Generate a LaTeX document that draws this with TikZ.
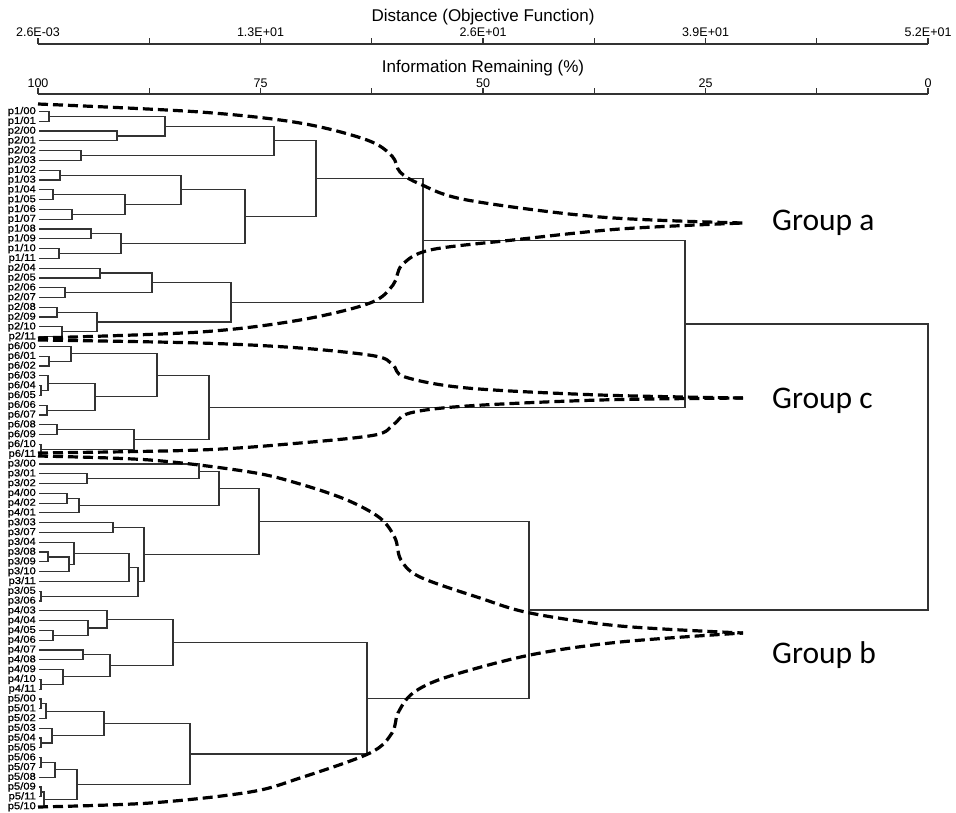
\documentclass[tikz,border=0pt]{standalone}
\usepackage{fontspec}
\setmainfont{Liberation Sans}
\newfontfamily\grpfont{Carlito}
\newfontfamily\leaffont[FakeBold=0.8,FakeStretch=1.12]{Liberation Sans}
\usetikzlibrary{calc}

\tikzset{
  dend/.style={line width=1.2pt, black!80},
  grpline/.style={line width=3.2pt, dash pattern=on 10pt off 5pt, smooth, tension=0.55},
  leaf/.style={anchor=east, inner sep=0pt, text height=7.2pt, text depth=2pt, font=\leaffont\fontsize{10}{10}\selectfont},
  ticklab/.style={inner sep=0pt, font=\fontsize{12.5}{12.5}\selectfont},
  axtitle/.style={inner sep=0pt, font=\fontsize{17}{17}\selectfont},
  grplab/.style={anchor=base west, inner sep=0pt, font=\grpfont\fontsize{31.5}{31.5}\selectfont}
}

% bracket joining two subtrees at distance #4
\newcommand\junc[4]{%
  \path ($(#2)!0.5!(#3)$) coordinate (#1m);
  \coordinate (#1) at (#4,0 |- #1m);
  \draw[dend] (#2) -| (#1) |- (#3);}

\begin{document}
\begin{tikzpicture}[x=1pt, y=-1pt]
  \fill[white] (0,0) rectangle (956,812);
  \useasboundingbox (0,0) rectangle (956,812);

  % axes
  \node[axtitle] (dtitle) at (483,17) {Distance (Objective Function)};
  \node[axtitle] (ititle) at (483,68) {Information Remaining (\%)};
  \coordinate (d0) at (38,44);
  \coordinate (d8) at (928,44);
  \coordinate (i0) at (38,94);
  \coordinate (i8) at (928,94);
  \draw[dend] (d0) -- (d8);
  \draw[dend] (i0) -- (i8);
  \foreach \k in {0,...,8} {
    \draw[dend] ($(d0)+(111.25*\k,0)$) -- ++(0,-6);
    \draw[dend] ($(i0)+(111.25*\k,0)$) -- ++(0,-6);
  }
  \foreach \v/\k in {2.6E-03/0, 1.3E+01/2, 2.6E+01/4, 3.9E+01/6, 5.2E+01/8}
    \node[ticklab] (dl\k) at (38+111.25*\k,32) {\v};
  \foreach \v/\k in {100/0, 75/2, 50/4, 25/6, 0/8}
    \node[ticklab] (il\k) at (38+111.25*\k,83) {\v};

  % leaves
  \foreach \lab [count=\i from 0] in {p1/00,p1/01,p2/00,p2/01,p2/02,p2/03,p1/02,p1/03,p1/04,p1/05,p1/06,p1/07,p1/08,p1/09,p1/10,p1/11,p2/04,p2/05,p2/06,p2/07,p2/08,p2/09,p2/10,p2/11,p6/00,p6/01,p6/02,p6/03,p6/04,p6/05,p6/06,p6/07,p6/08,p6/09,p6/10,p6/11,p3/00,p3/01,p3/02,p4/00,p4/02,p4/01,p3/03,p3/07,p3/04,p3/08,p3/09,p3/10,p3/11,p3/05,p3/06,p4/03,p4/04,p4/05,p4/06,p4/07,p4/08,p4/09,p4/10,p4/11,p5/00,p5/01,p5/02,p5/03,p5/04,p5/05,p5/06,p5/07,p5/08,p5/09,p5/11,p5/10} {
    \coordinate (L\i) at (39,111.5+9.79*\i);
    \node[leaf] (n\i) at (36,111.5+9.79*\i) {\lab};
  }

  % group a
  \junc{a1}{L0}{L1}{49}
  \junc{a2}{L2}{L3}{117}
  \junc{a3}{a1}{a2}{165}
  \junc{a4}{L4}{L5}{81}
  \junc{a5}{a3}{a4}{274}
  \junc{a6}{L6}{L7}{60}
  \junc{a7}{L8}{L9}{53}
  \junc{a8}{L10}{L11}{72}
  \junc{a9}{a7}{a8}{125}
  \junc{a10}{a6}{a9}{181}
  \junc{a11}{L12}{L13}{91}
  \junc{a12}{L14}{L15}{59}
  \junc{a13}{a11}{a12}{121}
  \junc{a14}{a10}{a13}{245}
  \junc{a15}{a5}{a14}{316}
  \junc{a16}{L16}{L17}{100}
  \junc{a17}{L18}{L19}{65}
  \junc{a18}{a16}{a17}{152}
  \junc{a19}{L20}{L21}{57}
  \junc{a20}{L22}{L23}{62}
  \junc{a21}{a19}{a20}{97}
  \junc{a22}{a18}{a21}{231}
  \junc{a23}{a15}{a22}{423}

  % group c
  \junc{c1}{L25}{L26}{49}
  \junc{c2}{L24}{c1}{71}
  \junc{c3}{L28}{L29}{41}
  \junc{c4}{L27}{c3}{48}
  \junc{c5}{L30}{L31}{47}
  \junc{c6}{c4}{c5}{95}
  \junc{c7}{c2}{c6}{157}
  \junc{c8}{L32}{L33}{57}
  \junc{c9}{L34}{L35}{41}
  \junc{c10}{c8}{c9}{134}
  \junc{c11}{c7}{c10}{209}
  \junc{ac}{a23}{c11}{685}

  % group b
  \junc{b1}{L37}{L38}{87}
  \junc{b2}{L36}{b1}{199}
  \junc{b3}{L39}{L40}{67}
  \junc{b4}{b3}{L41}{79}
  \junc{b5}{b2}{b4}{219}
  \junc{b6}{L42}{L43}{113}
  \junc{b7}{L45}{L46}{48}
  \junc{b8}{b7}{L47}{69}
  \junc{b9}{L44}{b8}{74}
  \junc{b10}{b9}{L48}{129}
  \junc{b11}{L49}{L50}{41}
  \junc{b12}{b10}{b11}{138}
  \junc{b13}{b6}{b12}{144}
  \junc{b14}{b5}{b13}{259}
  \junc{b15}{L53}{L54}{53}
  \junc{b16}{L52}{b15}{88}
  \junc{b17}{L51}{b16}{107}
  \junc{b18}{L55}{L56}{83}
  \junc{b19}{L58}{L59}{41}
  \junc{b20}{L57}{b19}{63}
  \junc{b21}{b18}{b20}{110}
  \junc{b22}{b17}{b21}{173}
  \junc{b23}{L60}{L61}{41}
  \junc{b24}{b23}{L62}{46}
  \junc{b25}{L64}{L65}{41}
  \junc{b26}{L63}{b25}{52}
  \junc{b27}{b24}{b26}{104}
  \junc{b28}{L66}{L67}{41}
  \junc{b29}{b28}{L68}{55}
  \junc{b30}{L69}{L70}{41}
  \junc{b31}{b30}{L71}{44}
  \junc{b32}{b29}{b31}{77}
  \junc{b33}{b27}{b32}{190}
  \junc{b34}{b22}{b33}{367}
  \junc{b35}{b14}{b34}{529}
  \junc{root}{ac}{b35}{928}

  % group outlines
  \coordinate (tipa) at (743,223);
  \coordinate (tipc) at (743,398);
  \coordinate (tipb) at (743,633);
  \draw[grpline] plot coordinates {(38,104) (200,112) (300,123) (367,140) (392,156) (400,172) (420,184) (467,200) (600,217) (tipa)};
  \draw[grpline] plot coordinates {(38,338) (200,332) (300,320) (370,303) (393,285) (402,265) (430,250) (513,240) (620,229) (tipa)};
  \draw[grpline] plot coordinates {(38,340) (200,343) (300,348) (375,356) (393,365) (405,377) (467,388) (600,395) (tipc)};
  \draw[grpline] plot coordinates {(38,453) (200,450) (300,443) (375,435) (393,425) (410,413) (467,406) (600,400) (tipc)};
  \draw[grpline] plot coordinates {(38,456) (150,460) (250,472) (300,484) (347,500) (380,518) (395,538) (401,560) (420,577) (480,598) (530,613) (620,626) (tipb)};
  \draw[grpline] plot coordinates {(38,807) (150,803) (250,792) (300,778) (370,753) (392,733) (398,713) (413,693) (447,677) (530,655) (620,642) (tipb)};

  \node[grplab] (ga) at (772,230) {Group a};
  \node[grplab] (gc) at (772,408) {Group c};
  \node[grplab] (gb) at (772,663) {Group b};
\end{tikzpicture}
\end{document}
